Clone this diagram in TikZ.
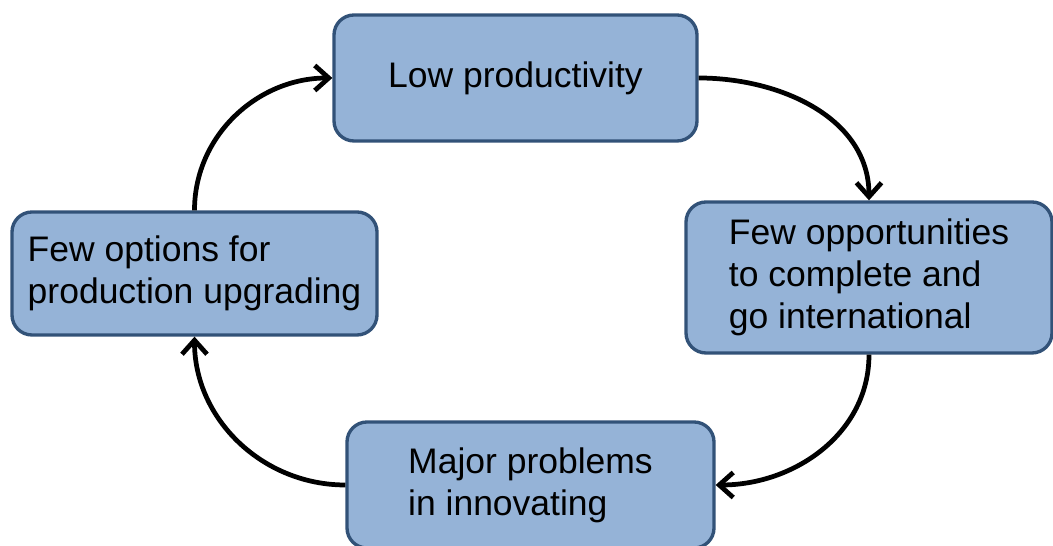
\documentclass[tikz,border=0pt]{standalone}
\usepackage{fontspec}
\setmainfont{Liberation Sans}
\usepackage{tikz}
\usetikzlibrary{arrows.meta}

\definecolor{boxfill}{RGB}{149,179,215}
\definecolor{boxline}{RGB}{50,82,120}

\begin{document}
\begin{tikzpicture}[
    causebox/.style={draw=boxline, fill=boxfill, line width=1.9pt, rounded corners=0.4cm,
        align=left, font=\fontsize{20.2}{23.9}\selectfont},
    cyclearrow/.style={line width=2.7pt, -{Straight Barb[length=0.28cm,width=0.5cm]}}
    ]
        % Fix the page size
        \useasboundingbox (0,0) rectangle (21.06,10.92);

        % Draw the four boxes of the cycle
        \node[causebox, minimum width=7.26cm, minimum height=2.52cm] (low) at (10.31,9.36) {Low productivity};
        \node[causebox, minimum width=7.32cm, minimum height=3.02cm] (opp) at (17.38,5.37) {Few opportunities\\to complete and\\go international};
        \node[causebox, minimum width=7.34cm, minimum height=2.52cm] (major) at (10.61,1.22) {Major problems\\in innovating};
        \node[causebox, minimum width=7.30cm, minimum height=2.46cm] (opt) at (3.89,5.45) {Few options for\\production upgrading};

        % Draw the arrows round the cycle
        \draw[cyclearrow] (low.east) to[out=0, in=90] (opp.north);
        \draw[cyclearrow] (opp.south) to[out=-90, in=0] (major.east);
        \draw[cyclearrow] (major.west) to[out=180, in=-90] (opt.south);
        \draw[cyclearrow] (opt.north) to[out=90, in=180] (low.west);
    \end{tikzpicture}
\end{document}
